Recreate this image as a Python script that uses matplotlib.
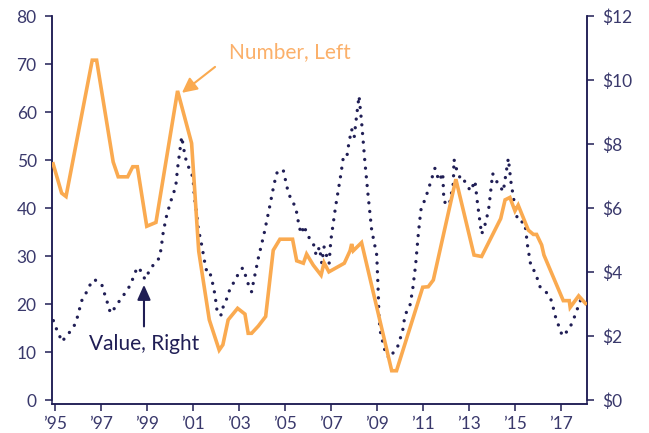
import numpy as np
import matplotlib.pyplot as plt

plt.rcParams['font.family'] = ['Lato', 'DejaVu Sans']
plt.rcParams['figure.dpi'] = 100

ORANGE = '#FAAA50'
NAVY = '#201E55'
TXT = '#3A396C'

# Number of deals (left axis)
num_year = [1994.92, 1995.29, 1995.48, 1996.62, 1996.81, 1997.53, 1997.75, 1998.16,
            1998.38, 1998.58, 1998.99, 1999.39, 2000.33, 2000.94, 2001.25, 2001.71,
            2002.14, 2002.30, 2002.53, 2002.94, 2003.26, 2003.40, 2003.55, 2003.84,
            2004.16, 2004.49, 2004.78, 2005.33, 2005.51, 2005.80, 2005.94, 2006.23,
            2006.57, 2006.70, 2006.91, 2007.58, 2007.83, 2007.90, 2007.97, 2008.33,
            2009.64, 2009.85, 2010.99, 2011.23, 2011.45, 2012.43, 2013.22, 2013.55,
            2014.38, 2014.57, 2014.78, 2015.00, 2015.14, 2015.58, 2015.80, 2015.94,
            2016.16, 2016.26, 2017.10, 2017.36, 2017.40, 2017.77, 2018.07]
num_val = [49.2, 43.1, 42.4, 70.8, 70.8, 49.6, 46.5, 46.5,
           48.6, 48.6, 36.2, 37.0, 64.4, 53.5, 31.0, 16.7,
           10.4, 11.5, 16.7, 19.1, 17.9, 13.9, 13.9, 15.4,
           17.4, 31.2, 33.5, 33.5, 29.0, 28.5, 30.4, 28.1,
           26.0, 28.6, 26.7, 28.5, 31.1, 32.5, 31.1, 32.8,
           6.1, 6.1, 23.5, 23.6, 25.0, 46.0, 30.2, 29.9,
           37.8, 41.7, 42.2, 39.4, 40.6, 35.4, 34.5, 34.5,
           32.3, 30.2, 20.7, 20.7, 19.3, 21.7, 20.1]

# Deal value in $ (right axis)
val_year = [1994.93, 1995.04, 1995.19, 1995.29, 1995.51, 1995.68, 1995.83, 1995.97,
            1996.16, 1996.33, 1996.49, 1996.70, 1997.03, 1997.14, 1997.25, 1997.32,
            1997.43, 1997.64, 1997.86, 1998.09, 1998.29, 1998.43, 1998.58, 1998.77,
            1998.91, 1999.10, 1999.32, 1999.53, 1999.61, 1999.71, 1999.86, 2000.04,
            2000.25, 2000.33, 2000.47, 2000.51, 2000.65, 2000.75, 2000.94, 2001.01,
            2001.06, 2001.16, 2001.23, 2001.38, 2001.52, 2001.60, 2001.71, 2001.81,
            2001.96, 2002.03, 2002.10, 2002.25, 2002.32, 2002.51, 2002.61, 2002.80,
            2002.97, 2003.16, 2003.29, 2003.40, 2003.55, 2003.62, 2003.84, 2004.09,
            2004.32, 2004.53, 2004.68, 2004.93, 2005.10, 2005.22, 2005.47, 2005.61,
            2005.70, 2005.85, 2005.92, 2006.07, 2006.28, 2006.35, 2006.50, 2006.60,
            2006.70, 2006.80, 2006.92, 2006.97, 2007.00, 2007.20, 2007.43, 2007.53,
            2007.68, 2007.78, 2007.90, 2008.01, 2008.09, 2008.22, 2008.33, 2008.48,
            2008.62, 2008.77, 2008.99, 2009.06, 2009.09, 2009.16, 2009.32, 2009.42,
            2009.60, 2009.75, 2009.90, 2010.00, 2010.11, 2010.22, 2010.43, 2010.55,
            2010.68, 2010.80, 2010.91, 2010.99, 2011.13, 2011.33, 2011.52, 2011.60,
            2011.71, 2011.86, 2011.91, 2012.14, 2012.32, 2012.35, 2012.42, 2012.68,
            2012.80, 2013.07, 2013.26, 2013.38, 2013.55, 2013.74, 2013.87, 2014.03,
            2014.13, 2014.32, 2014.49, 2014.71, 2014.83, 2015.00, 2015.12, 2015.43,
            2015.55, 2015.70, 2015.87, 2016.09, 2016.38, 2016.59, 2016.77, 2017.06,
            2017.36, 2017.64, 2017.83, 2018.14]
val_val = [2.48, 2.26, 2.03, 1.82, 2.00, 2.16, 2.31, 2.58,
           3.10, 3.31, 3.56, 3.77, 3.62, 3.35, 3.13, 2.90,
           2.71, 2.92, 3.16, 3.38, 3.61, 3.88, 4.15, 4.01,
           3.77, 4.03, 4.27, 4.43, 4.71, 5.26, 5.78, 6.22,
           6.67, 7.24, 8.00, 8.23, 7.64, 7.36, 7.10, 6.85,
           6.35, 5.83, 5.36, 4.84, 4.27, 4.01, 4.03, 3.80,
           3.28, 2.86, 2.66, 2.66, 2.94, 3.23, 3.49, 3.70,
           3.94, 4.13, 3.88, 3.63, 3.38, 3.65, 4.43, 5.19,
           5.99, 6.76, 7.17, 7.17, 6.62, 6.35, 6.01, 5.45,
           5.20, 5.45, 5.23, 5.05, 4.81, 4.53, 4.78, 4.27,
           4.78, 4.53, 4.27, 4.77, 5.02, 6.04, 7.05, 7.55,
           7.55, 8.04, 8.46, 8.21, 8.73, 9.50, 8.70, 7.40,
           6.35, 5.31, 4.53, 3.28, 2.52, 2.08, 1.61, 1.38,
           1.30, 1.56, 1.67, 1.90, 2.13, 2.66, 2.94, 3.44,
           4.22, 5.21, 5.94, 6.09, 6.35, 6.80, 7.24, 7.05,
           6.85, 7.10, 6.20, 6.09, 6.77, 7.52, 7.29, 6.82,
           6.85, 6.53, 6.85, 6.09, 5.18, 5.57, 6.04, 7.08,
           6.90, 6.72, 6.51, 7.55, 6.79, 6.04, 5.60, 5.54,
           4.81, 4.15, 4.01, 3.54, 3.35, 3.10, 2.58, 2.00,
           2.21, 2.69, 3.10, 3.10]

xticks = list(range(1995, 2018, 2))
xlabels = ['\u2019%02d' % (y % 100) for y in xticks]
left_ticks = list(range(0, 81, 10))
right_ticks = list(range(0, 13, 2))
right_labels = ['$%d' % v for v in right_ticks]

fig = plt.figure(figsize=(6.49, 4.33))
ax = fig.add_axes([0.0801, 0.067, 0.8243, 0.896])
ax2 = ax.twinx()

ax.plot(num_year, num_val, color=ORANGE, lw=2.6, solid_joinstyle='miter', zorder=3)
ax2.plot(val_year, val_val, color=NAVY, lw=2.4, linestyle=(0, (0.01, 2.6)),
         dash_capstyle='round')

ax.set_xlim(1994.87, 2018.13)
ax.set_ylim(-0.83, 80)
ax2.set_ylim(-0.125, 12)

ax.set_xticks(xticks)
ax.set_xticklabels(xlabels)
ax.set_yticks(left_ticks)
ax2.set_yticks(right_ticks)
ax2.set_yticklabels(right_labels)

for a in (ax, ax2):
    a.spines['top'].set_visible(False)
    for s in a.spines.values():
        s.set_color(NAVY)
        s.set_linewidth(1.1)
    a.tick_params(colors=NAVY, labelcolor=TXT, labelsize=12.5, width=1.1, length=5)
ax.spines['left'].set_bounds(0, 80)
ax2.spines['right'].set_bounds(0, 12)
ax.tick_params(axis='y', pad=6)
ax2.tick_params(axis='y', pad=6)
ax.tick_params(axis='x', pad=4)
ax.patch.set_visible(False)
ax2.set_zorder(0)
ax.set_zorder(1)

# "Number, Left" label with its arrow
ax.text(2002.57, 71.3, 'Number, Left', color='#FBB06A', fontsize=15,
        ha='left', va='baseline')
ax.annotate('', xy=(2000.52, 64.0), xytext=(2001.96, 69.4),
            arrowprops=dict(arrowstyle='-|>,head_length=0.9,head_width=0.45',
                            color=ORANGE, lw=1.5, shrinkA=0, shrinkB=0))

# "Value, Right" label with its arrow
ax2.text(1998.87, 1.57, 'Value, Right', color=NAVY, fontsize=15,
         ha='center', va='baseline')
ax2.annotate('', xy=(1998.87, 3.6), xytext=(1998.87, 2.3),
             arrowprops=dict(arrowstyle='-|>,head_length=0.9,head_width=0.4',
                             color=NAVY, lw=1.5, shrinkA=0, shrinkB=0))

fig.savefig('out.png', dpi=100)
